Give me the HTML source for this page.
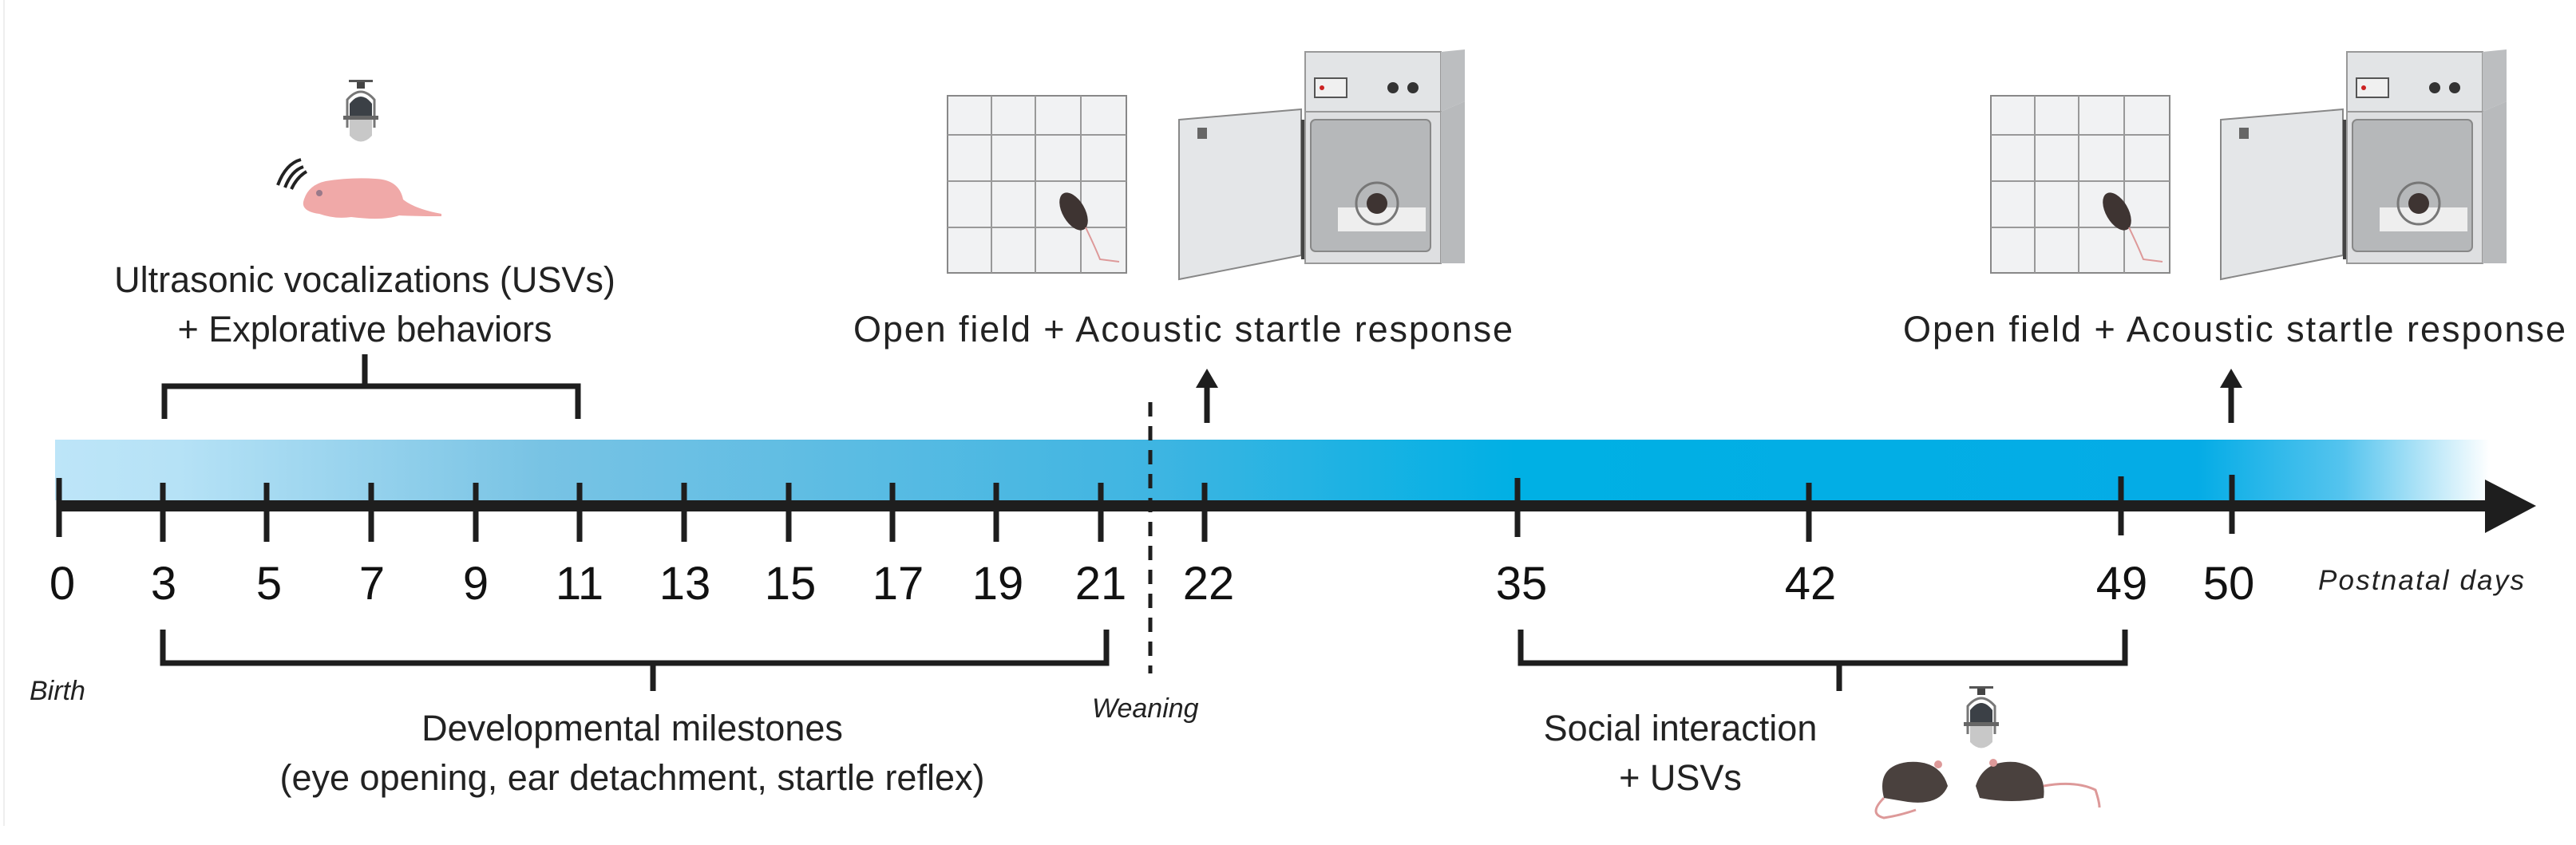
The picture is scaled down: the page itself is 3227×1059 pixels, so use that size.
<!DOCTYPE html>
<html><head><meta charset="utf-8"><style>
html,body{margin:0;padding:0;background:#fff;}
svg{display:block;}
.lbl{font-family:"Liberation Sans",sans-serif;font-size:45px;fill:#222;}
.num{font-family:"Liberation Sans Narrow","Liberation Sans",sans-serif;font-size:58px;fill:#111;}
.it{font-family:"Liberation Sans",sans-serif;font-style:italic;font-size:32px;fill:#222;}
</style></head><body>
<svg width="3227" height="1059" viewBox="0 0 3227 1059" xmlns="http://www.w3.org/2000/svg">
<defs>
<linearGradient id="bar" x1="0" x2="1" y1="0" y2="0">
<stop offset="0" stop-color="#bde5f8"/>
<stop offset="0.05" stop-color="#b6e2f6"/>
<stop offset="0.2" stop-color="#78c3e4"/>
<stop offset="0.45" stop-color="#3fb5e2"/>
<stop offset="0.6" stop-color="#00b0e4"/>
<stop offset="0.88" stop-color="#04ace6"/>
<stop offset="0.94" stop-color="#55c4ee"/>
<stop offset="1" stop-color="#ffffff"/>
</linearGradient>
</defs>
<rect x="0" y="0" width="3227" height="1059" fill="#fff"/>
<line x1="5" y1="0" x2="5" y2="1035" stroke="#eee" stroke-width="2"/>
<rect x="69" y="551" width="3050" height="76" fill="url(#bar)"/>
<rect x="74" y="627" width="3045" height="14" fill="#1e1e1e"/>
<polygon points="3113,601 3177,634 3113,668" fill="#1e1e1e"/>
<g stroke="#1e1e1e" stroke-width="7">
<line x1="74" y1="599" x2="74" y2="673"/>
<line x1="204" y1="605" x2="204" y2="679"/>
<line x1="334" y1="605" x2="334" y2="679"/>
<line x1="465" y1="605" x2="465" y2="679"/>
<line x1="596" y1="605" x2="596" y2="679"/>
<line x1="726" y1="605" x2="726" y2="679"/>
<line x1="857" y1="605" x2="857" y2="679"/>
<line x1="988" y1="605" x2="988" y2="679"/>
<line x1="1118" y1="605" x2="1118" y2="679"/>
<line x1="1248" y1="605" x2="1248" y2="679"/>
<line x1="1379" y1="605" x2="1379" y2="679"/>
<line x1="1509" y1="605" x2="1509" y2="679"/>
<line x1="1901" y1="599" x2="1901" y2="673"/>
<line x1="2266" y1="605" x2="2266" y2="679"/>
<line x1="2657" y1="597" x2="2657" y2="671"/>
<line x1="2796" y1="595" x2="2796" y2="669"/>
</g>
<line x1="1441" y1="504" x2="1441" y2="844" stroke="#1e1e1e" stroke-width="5" stroke-dasharray="18,12"/>
<g class="num" text-anchor="middle">
<text x="78" y="751">0</text><text x="205" y="751">3</text><text x="337" y="751">5</text>
<text x="466" y="751">7</text><text x="596" y="751">9</text><text x="726" y="751">11</text>
<text x="858" y="751">13</text><text x="990" y="751">15</text><text x="1125" y="751">17</text>
<text x="1250" y="751">19</text><text x="1379" y="751">21</text><text x="1514" y="751">22</text>
<text x="1906" y="751">35</text><text x="2268" y="751">42</text><text x="2658" y="751">49</text>
<text x="2792" y="751">50</text>
</g>
<text class="it" x="2904" y="739" style="font-size:35px" textLength="258">Postnatal days</text>
<text class="it" x="37" y="877" style="font-size:34px">Birth</text>
<text class="it" x="1368" y="899" style="font-size:34px">Weaning</text>
<g fill="none" stroke="#1e1e1e" stroke-width="7">
<path d="M204,789 V831 H1386 V789"/>
<line x1="818" y1="831" x2="818" y2="866"/>
<path d="M1905,789 V831 H2662 V789"/>
<line x1="2304" y1="831" x2="2304" y2="866"/>
<path d="M206,525 V484 H724 V525"/>
<line x1="457" y1="484" x2="457" y2="444"/>
<line x1="1512" y1="530" x2="1512" y2="480"/>
<line x1="2795" y1="530" x2="2795" y2="480"/>
</g>
<polygon points="1498,486 1512,462 1526,486" fill="#1e1e1e"/>
<polygon points="2781,486 2795,462 2809,486" fill="#1e1e1e"/>
<g class="lbl" text-anchor="middle">
<text x="792" y="928">Developmental milestones</text>
<text x="792" y="990">(eye opening, ear detachment, startle reflex)</text>
<text x="2105" y="928">Social interaction</text>
<text x="2105" y="990">+ USVs</text>
<text x="457" y="366">Ultrasonic vocalizations (USVs)</text>
<text x="457" y="428">+ Explorative behaviors</text>
<text x="1482" y="428" textLength="826">Open field + Acoustic startle response</text>
<text x="2799" y="428" textLength="830">Open field + Acoustic startle response</text>
</g>
<g id="mic1">
<rect x="437" y="100" width="30" height="3" fill="#555"/>
<rect x="447" y="103" width="10" height="8" fill="#444"/>
<path d="M435,160 V125 Q452,105 469,125 V160" fill="none" stroke="#777" stroke-width="3"/>
<path d="M438,145 V130 Q452,112 466,130 V145 Z" fill="#3b4046"/>
<rect x="430" y="145" width="44" height="5" fill="#666"/>
<path d="M438,150 H466 V170 Q452,185 438,170 Z" fill="#c8c8c8"/>
</g>
<use href="#mic1" transform="translate(2030,760)"/>
<g>
<path d="M348,232 Q358,205 377,200" fill="none" stroke="#222" stroke-width="4"/>
<path d="M357,235 Q365,214 380,209" fill="none" stroke="#222" stroke-width="4"/>
<path d="M365,237 Q372,222 384,215" fill="none" stroke="#222" stroke-width="4"/>
<path d="M380,253 Q385,232 408,227 Q440,222 470,224 Q500,225 505,250 Q520,262 553,268 L553,271 Q520,271 500,270 Q480,277 440,272 Q420,275 400,268 Q378,265 380,253 Z" fill="#f0a9a8"/>
<circle cx="400" cy="242" r="4" fill="#9a7a8a"/>
</g>
<g id="of">
<rect x="1187" y="120" width="224" height="222" fill="#f1f2f3" stroke="#888" stroke-width="2"/>
<g stroke="#999" stroke-width="2">
<line x1="1242" y1="120" x2="1242" y2="342"/><line x1="1297" y1="120" x2="1297" y2="342"/><line x1="1354" y1="120" x2="1354" y2="342"/>
<line x1="1187" y1="169" x2="1411" y2="169"/><line x1="1187" y1="227" x2="1411" y2="227"/><line x1="1187" y1="285" x2="1411" y2="285"/>
</g>
<ellipse cx="1345" cy="265" rx="14" ry="26" transform="rotate(-30 1345 265)" fill="#3e3432"/>
<path d="M1360,285 Q1372,310 1378,325 L1402,328" fill="none" stroke="#d99" stroke-width="2"/>
</g>
<g id="sb">
<polygon points="1477,150 1630,137 1630,320 1477,350" fill="#e4e6e8" stroke="#888" stroke-width="2"/>
<rect x="1500" y="160" width="12" height="14" fill="#666"/>
<rect x="1630" y="150" width="5" height="175" fill="#444"/>
<rect x="1635" y="65" width="170" height="75" fill="#e2e4e6" stroke="#999" stroke-width="2"/>
<polygon points="1805,65 1835,62 1835,127 1805,140" fill="#bcbec0"/>
<rect x="1647" y="98" width="40" height="24" fill="#f0f0f0" stroke="#555" stroke-width="2"/>
<circle cx="1656" cy="110" r="3" fill="#c22"/>
<circle cx="1745" cy="110" r="7" fill="#333"/><circle cx="1770" cy="110" r="7" fill="#333"/>
<rect x="1635" y="140" width="170" height="190" fill="#dedfe1" stroke="#999" stroke-width="2"/>
<polygon points="1805,140 1835,127 1835,330 1805,330" fill="#b8babc"/>
<rect x="1642" y="150" width="150" height="165" rx="6" fill="#b6b8ba" stroke="#888" stroke-width="2"/>
<rect x="1676" y="260" width="110" height="30" fill="#eee"/>
<circle cx="1725" cy="255" r="26" fill="none" stroke="#777" stroke-width="3"/>
<circle cx="1725" cy="255" r="13" fill="#3e3432"/>
</g>
<use href="#of" transform="translate(1307,0)"/>
<use href="#sb" transform="translate(1305,0)"/>
<g>
<path d="M2360,1000 Q2350,960 2390,955 Q2430,952 2440,985 Q2430,1010 2390,1005 Z" fill="#4a413e"/>
<path d="M2475,985 Q2485,952 2525,955 Q2565,962 2560,1000 Q2520,1008 2480,1000 Z" fill="#4a413e"/>
<path d="M2360,1000 Q2340,1020 2360,1025 Q2380,1022 2400,1015" fill="none" stroke="#d99" stroke-width="3"/>
<path d="M2560,985 Q2600,978 2625,990 Q2630,1005 2630,1012" fill="none" stroke="#d99" stroke-width="3"/>
<circle cx="2428" cy="958" r="5" fill="#d99"/><circle cx="2497" cy="956" r="5" fill="#d99"/>
</g>
</svg>
</body></html>
